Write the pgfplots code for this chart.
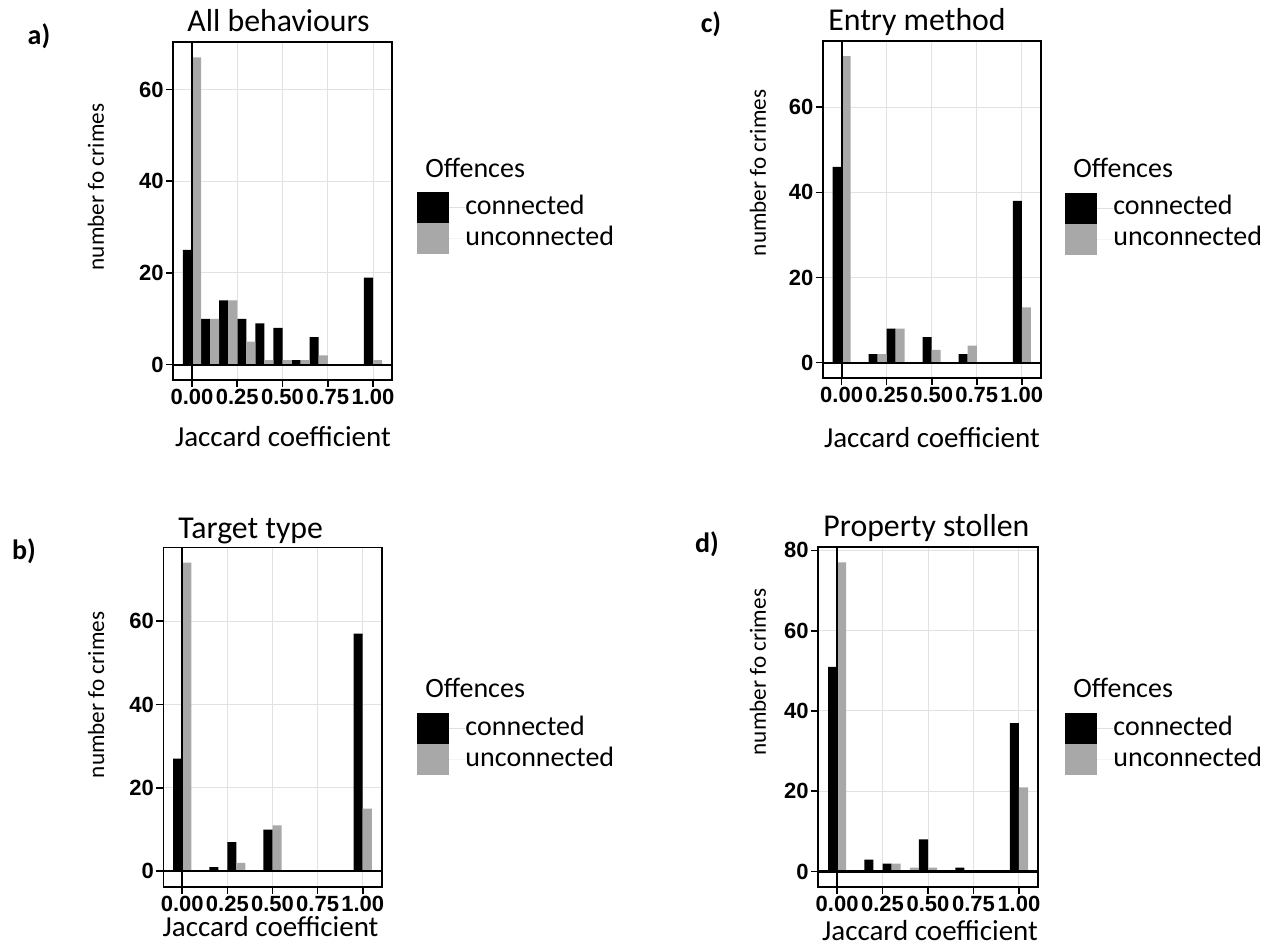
\documentclass[border=0pt]{standalone}
\usepackage{pgfplots}
\pgfplotsset{compat=1.18}
\usepackage{fontspec}
\setmainfont{Carlito}
\newfontfamily\tickfont{Liberation Sans}
\definecolor{unconn}{HTML}{A8A8A8}
\definecolor{gridc}{HTML}{E2E2E2}

\pgfplotsset{
  jacc/.style={
    scale only axis,
    xmin=-0.105, xmax=1.105,
    xtick={0,0.25,0.5,0.75,1},
    xticklabels={0.00,0.25,0.50,0.75,1.00},
    ytick={0,20,40,60,80},
    tick pos=left,
    tick align=outside,
    major tick length=3.5pt,
    grid=major,
    major grid style={gridc, line width=0.5pt},
    axis line style={line width=0.8pt},
    tick style={black, line width=0.8pt},
    ticklabel style={font=\tickfont\bfseries\fontsize{11}{13}\selectfont, inner sep=1pt},
    /pgf/number format/assume math mode=true,
    clip mode=individual,
    every axis title/.style={font=\fontsize{15.9}{18}\selectfont, anchor=base west, inner sep=0pt},
    xlabel style={font=\fontsize{14.5}{17}\selectfont, anchor=base},
    ylabel style={font=\fontsize{11.6}{14}\selectfont, anchor=center},
    xlabel={Jaccard coefficient},
    ylabel={number fo crimes},
    legend style={draw=none, fill=none, anchor=north west, inner sep=0pt,
      row sep=0pt, column sep=0pt, font=\fontsize{14}{16}\selectfont,
      nodes={inner sep=0pt, text height=11pt, text depth=4.5pt}},
    legend cell align=left,
  },
  keyblack/.style={legend image code/.code={
      \fill[black] (0pt,-7.75pt) rectangle (16pt,7.75pt);
      \path (0pt,0pt) -- (24pt,0pt);}},
  keygray/.style={legend image code/.code={
      \fill[unconn] (0pt,-7.75pt) rectangle (16pt,7.75pt);
      \path (0pt,0pt) -- (24pt,0pt);}},
  conn/.style={ybar, bar width=0.05, bar shift=-0.025, fill=black, draw=none, keyblack},
  unc/.style={ybar, bar width=0.05, bar shift=0.025, fill=unconn, draw=none, keygray},
  zeroline/.style={black, line width=1.1pt, forget plot},
}

\begin{document}
\begin{tikzpicture}
\useasboundingbox (0,0) rectangle (637pt,-473.5pt);

% a) All behaviours
\begin{axis}[jacc, at={(86.5pt,-21pt)}, anchor=north west,
    width=109.5pt, height=169pt, ymin=-3.35, ymax=70.35,
    title={All behaviours},
    title style={at={(axis description cs:0.064,1.0296)}},
    xlabel style={at={(axis description cs:0.502,-0.198)}},
    ylabel style={at={(axis description cs:-0.352,0.571)}},
    legend style={at={(1.114,0.556)}}]
  \addplot[conn] coordinates {(0,25) (0.1,10) (0.2,14) (0.3,10) (0.4,9) (0.5,8) (0.6,1) (0.7,6) (0.8,0) (0.9,0) (1,19)};
  \addlegendentry{connected}
  \addplot[unc] coordinates {(0,67) (0.1,10) (0.2,14) (0.3,5) (0.4,1) (0.5,1) (0.6,1) (0.7,2) (0.8,0) (0.9,0) (1,1)};
  \addlegendentry{unconnected}
  \addplot[zeroline] coordinates {(0,-10) (0,100)};
  \addplot[zeroline] coordinates {(-1,0) (2,0)};
\end{axis}

% c) Entry method
\begin{axis}[jacc, at={(411.35pt,-20.35pt)}, anchor=north west,
    width=109pt, height=168.65pt, ymin=-3.6, ymax=75.6,
    title={Entry method},
    title style={at={(axis description cs:0.024,1.029)}},
    xlabel style={at={(axis description cs:0.501,-0.2046)}},
    ylabel style={at={(axis description cs:-0.297,0.608)}},
    legend style={at={(1.111,0.551)}}]
  \addplot[conn] coordinates {(0,46) (0.1,0) (0.2,2) (0.3,8) (0.4,0) (0.5,6) (0.6,0) (0.7,2) (0.8,0) (0.9,0) (1,38)};
  \addlegendentry{connected}
  \addplot[unc] coordinates {(0,72) (0.1,0) (0.2,2) (0.3,8) (0.4,0) (0.5,3) (0.6,0) (0.7,4) (0.8,0) (0.9,0) (1,13)};
  \addlegendentry{unconnected}
  \addplot[zeroline] coordinates {(0,-10) (0,100)};
  \addplot[zeroline] coordinates {(-1,0) (2,0)};
\end{axis}

% b) Target type
\begin{axis}[jacc, at={(81.65pt,-273.65pt)}, anchor=north west,
    width=109.2pt, height=169.7pt, ymin=-3.7, ymax=77.7,
    title={Target type},
    title style={at={(axis description cs:0.067,1.0245)}},
    xlabel style={at={(axis description cs:0.491,-0.148)}},
    ylabel style={at={(axis description cs:-0.308,0.565)}},
    legend style={at={(1.162,0.512)}}]
  \addplot[conn] coordinates {(0,27) (0.1,0) (0.2,1) (0.3,7) (0.4,0) (0.5,10) (0.6,0) (0.7,0) (0.8,0) (0.9,0) (1,57)};
  \addlegendentry{connected}
  \addplot[unc] coordinates {(0,74) (0.1,0) (0.2,0) (0.3,2) (0.4,0) (0.5,11) (0.6,0) (0.7,0) (0.8,0) (0.9,0) (1,15)};
  \addlegendentry{unconnected}
  \addplot[zeroline] coordinates {(0,-10) (0,100)};
  \addplot[zeroline] coordinates {(-1,0) (2,0)};
\end{axis}

% d) Property stollen
\begin{axis}[jacc, at={(409pt,-273.5pt)}, anchor=north west,
    width=110pt, height=170pt, ymin=-3.85, ymax=80.85,
    title={Property stollen},
    title style={at={(axis description cs:0.023,1.032)}},
    xlabel style={at={(axis description cs:0.509,-0.156)}},
    ylabel style={at={(axis description cs:-0.273,0.632)}},
    legend style={at={(1.123,0.512)}}]
  \addplot[conn] coordinates {(0,51) (0.1,0) (0.2,3) (0.3,2) (0.4,0) (0.5,8) (0.6,0) (0.7,1) (0.8,0) (0.9,0) (1,37)};
  \addlegendentry{connected}
  \addplot[unc] coordinates {(0,77) (0.1,0) (0.2,0) (0.3,2) (0.4,1) (0.5,1) (0.6,0) (0.7,0) (0.8,0) (0.9,0) (1,21)};
  \addlegendentry{unconnected}
  \addplot[zeroline] coordinates {(0,-10) (0,100)};
  \addplot[zeroline] coordinates {(-1,0) (2,0)};
\end{axis}

% panel letters and legend titles
\begin{scope}[font=\bfseries\fontsize{14}{16}\selectfont]
  \node at (19.5pt,-18pt) {a)};
  \node at (12pt,-275.5pt) {b)};
  \node at (355.5pt,-12pt) {c)};
  \node at (353.5pt,-272pt) {d)};
\end{scope}
\begin{scope}[font=\fontsize{14}{16}\selectfont]
  \node[anchor=base west, inner sep=0pt] at (212.5pt,-88.5pt) {Offences};
  \node[anchor=base west, inner sep=0pt] at (212.5pt,-348.5pt) {Offences};
  \node[anchor=base west, inner sep=0pt] at (536.5pt,-88.5pt) {Offences};
  \node[anchor=base west, inner sep=0pt] at (536.5pt,-348.5pt) {Offences};
\end{scope}
\end{tikzpicture}
\end{document}
